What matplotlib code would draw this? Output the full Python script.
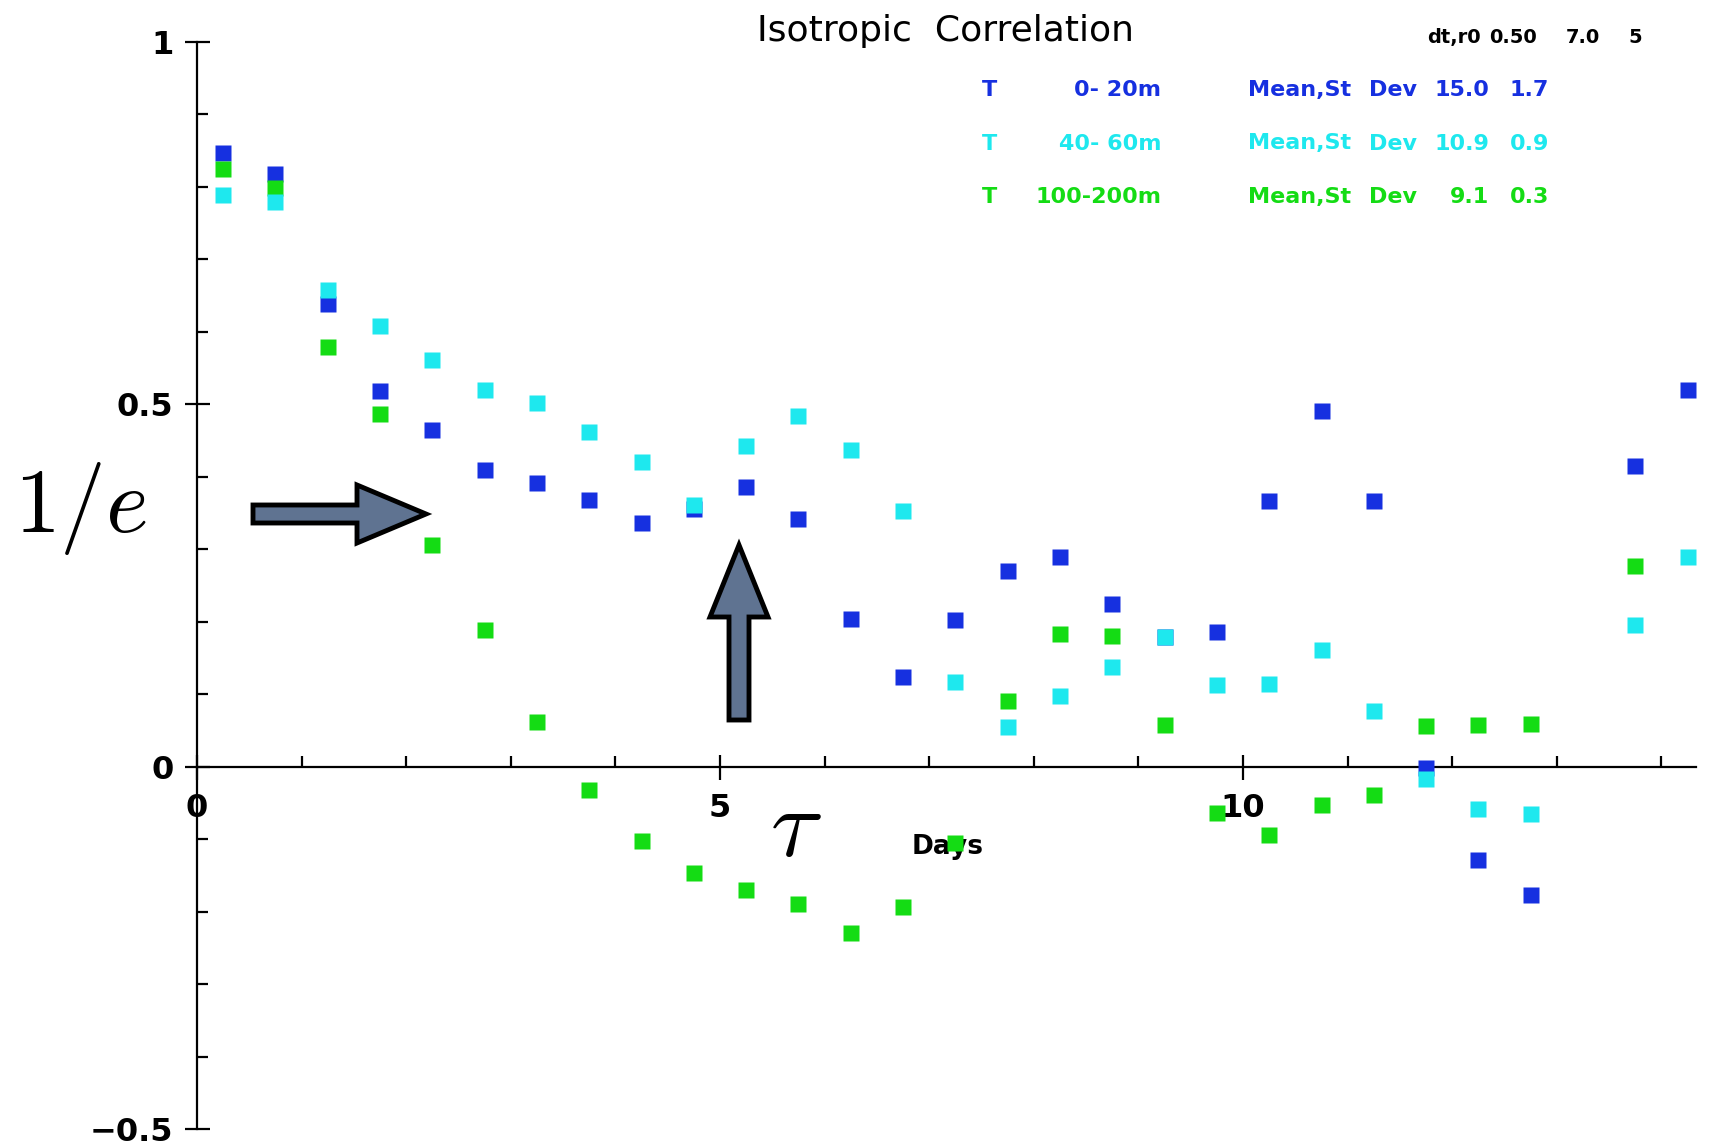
import numpy as np
import matplotlib
matplotlib.use("Agg")
import matplotlib.pyplot as plt
from matplotlib.patches import Polygon
from matplotlib.ticker import MultipleLocator

# Lag (days) and isotropic correlation for three depth bands of temperature
lag_days = [0.25, 0.75, 1.25, 1.75, 2.25, 2.75, 3.25, 3.75, 4.25, 4.75,
            5.25, 5.75, 6.25, 6.75, 7.25, 7.75, 8.25, 8.75, 9.25, 9.75,
            10.25, 10.75, 11.25, 11.75, 12.25, 12.75, 13.25, 13.75, 14.25]

corr_0_20 = [0.847, 0.818, 0.638, 0.518, 0.464, 0.409, 0.391, 0.368, 0.336, 0.355,
             0.386, 0.341, 0.204, 0.123, 0.202, 0.270, 0.289, 0.224, 0.178, 0.186,
             0.366, 0.490, 0.366, -0.002, -0.129, -0.177, np.nan, 0.414, 0.520]

corr_40_60 = [0.788, 0.779, 0.658, 0.608, 0.561, 0.520, 0.502, 0.461, 0.420, 0.361,
              0.442, 0.483, 0.436, 0.352, 0.117, 0.055, 0.097, 0.137, 0.178, 0.112,
              0.114, 0.161, 0.077, -0.017, -0.059, -0.065, np.nan, 0.195, 0.289]

corr_100_200 = [0.824, 0.798, 0.579, 0.486, 0.305, 0.188, 0.061, -0.032, -0.103, -0.147,
                -0.171, -0.189, -0.230, -0.194, -0.106, 0.090, 0.183, 0.180, 0.057, -0.064,
                -0.094, -0.053, -0.039, 0.056, 0.057, 0.059, np.nan, 0.277, np.nan]

depth_ranges = ["0- 20m", "40- 60m", "100-200m"]
decorr_mean = ["15.0", "10.9", "9.1"]
decorr_std = ["1.7", "0.9", "0.3"]
run_params = ["dt,r0", "0.50", "7.0", "5"]

x_ticks = [0, 5, 10]
x_tick_labels = ["0", "5", "10"]
y_ticks = [-0.5, 0, 0.5, 1]
y_tick_labels = ["\u22120.5", "0", "0.5", "1"]

BLUE = "#1630e0"
CYAN = "#1ee8ee"
GREEN = "#14dc14"
ARROW_FILL = "#5f7391"

W, H = 1717, 1146
plt.rcParams["mathtext.fontset"] = "cm"
fig = plt.figure(figsize=(W / 100, H / 100), dpi=100, facecolor="white")

# Pixel-space layer for annotations, drawn beneath the data axes
ov = fig.add_axes([0, 0, 1, 1], zorder=0)
ov.set_xlim(0, W)
ov.set_ylim(H, 0)
ov.axis("off")

ax = fig.add_axes([197 / W, 1 - 1129 / H, (1696 - 197) / W, (1129 - 41.6) / H], zorder=1)
ax.patch.set_visible(False)
ax.set_xlim(0, 14.33)
ax.set_ylim(-0.5, 1.0)

for vals, col in [(corr_0_20, BLUE), (corr_100_200, GREEN), (corr_40_60, CYAN)]:
    ax.plot(lag_days, vals, linestyle="none", marker="s", ms=12, color=col,
            mec="none", clip_on=False, zorder=3)

# Axes: left spine at x=0, bottom spine through y=0
for side in ("top", "right"):
    ax.spines[side].set_visible(False)
ax.spines["bottom"].set_position(("data", 0))
for side in ("left", "bottom"):
    ax.spines[side].set_linewidth(1.6)

ax.set_xticks(x_ticks)
ax.set_xticklabels(x_tick_labels)
ax.xaxis.set_minor_locator(MultipleLocator(1))
ax.set_yticks(y_ticks)
ax.set_yticklabels(y_tick_labels)
ax.yaxis.set_minor_locator(MultipleLocator(0.1))

ax.tick_params(axis="both", which="major", direction="inout", length=18, width=1.6,
               labelsize=23)
ax.tick_params(axis="both", which="minor", direction="in", length=8, width=1.6)
ax.tick_params(axis="x", which="major", pad=10)
ax.tick_params(axis="y", which="major", pad=8)
for lab in ax.get_xticklabels() + ax.get_yticklabels():
    lab.set_fontweight("bold")

# Title and run parameters
ov.text(945, 40.5, "Isotropic  Correlation", ha="center", va="baseline", fontsize=26)
for txt, xl in zip(run_params, [1427, 1489, 1566, 1628]):
    ov.text(xl, 43, txt, ha="left", va="baseline", fontsize=14, fontweight="bold")

# Series legend with decorrelation statistics
for i, col in enumerate([BLUE, CYAN, GREEN]):
    yb = 96 + i * 53.5
    kw = dict(va="baseline", fontsize=16, fontweight="bold", color=col)
    ov.text(982, yb, "T", ha="left", **kw)
    ov.text(1161, yb, depth_ranges[i], ha="right", **kw)
    ov.text(1248, yb, "Mean,St", ha="left", **kw)
    ov.text(1369, yb, "Dev", ha="left", **kw)
    ov.text(1489, yb, decorr_mean[i], ha="right", **kw)
    ov.text(1549, yb, decorr_std[i], ha="right", **kw)

ov.text(912, 854, "Days", ha="left", va="baseline", fontsize=19, fontweight="bold")

# e-folding annotations
ov.text(14, 532, r"$1/e$", ha="left", va="baseline", fontsize=66)
ov.text(770, 856, r"$\tau$", ha="left", va="baseline", fontsize=70)

h_arrow = [(253, 505), (357, 505), (357, 485), (426, 514), (357, 543), (357, 523), (253, 523)]
v_arrow = [(729, 720), (729, 617), (710, 617), (739, 545), (768, 617), (749, 617), (749, 720)]
for pts in (h_arrow, v_arrow):
    ov.add_patch(Polygon(pts, closed=True, facecolor=ARROW_FILL, edgecolor="black",
                         linewidth=3.5, joinstyle="miter"))

fig.savefig("out.png", dpi=100, facecolor="white")
